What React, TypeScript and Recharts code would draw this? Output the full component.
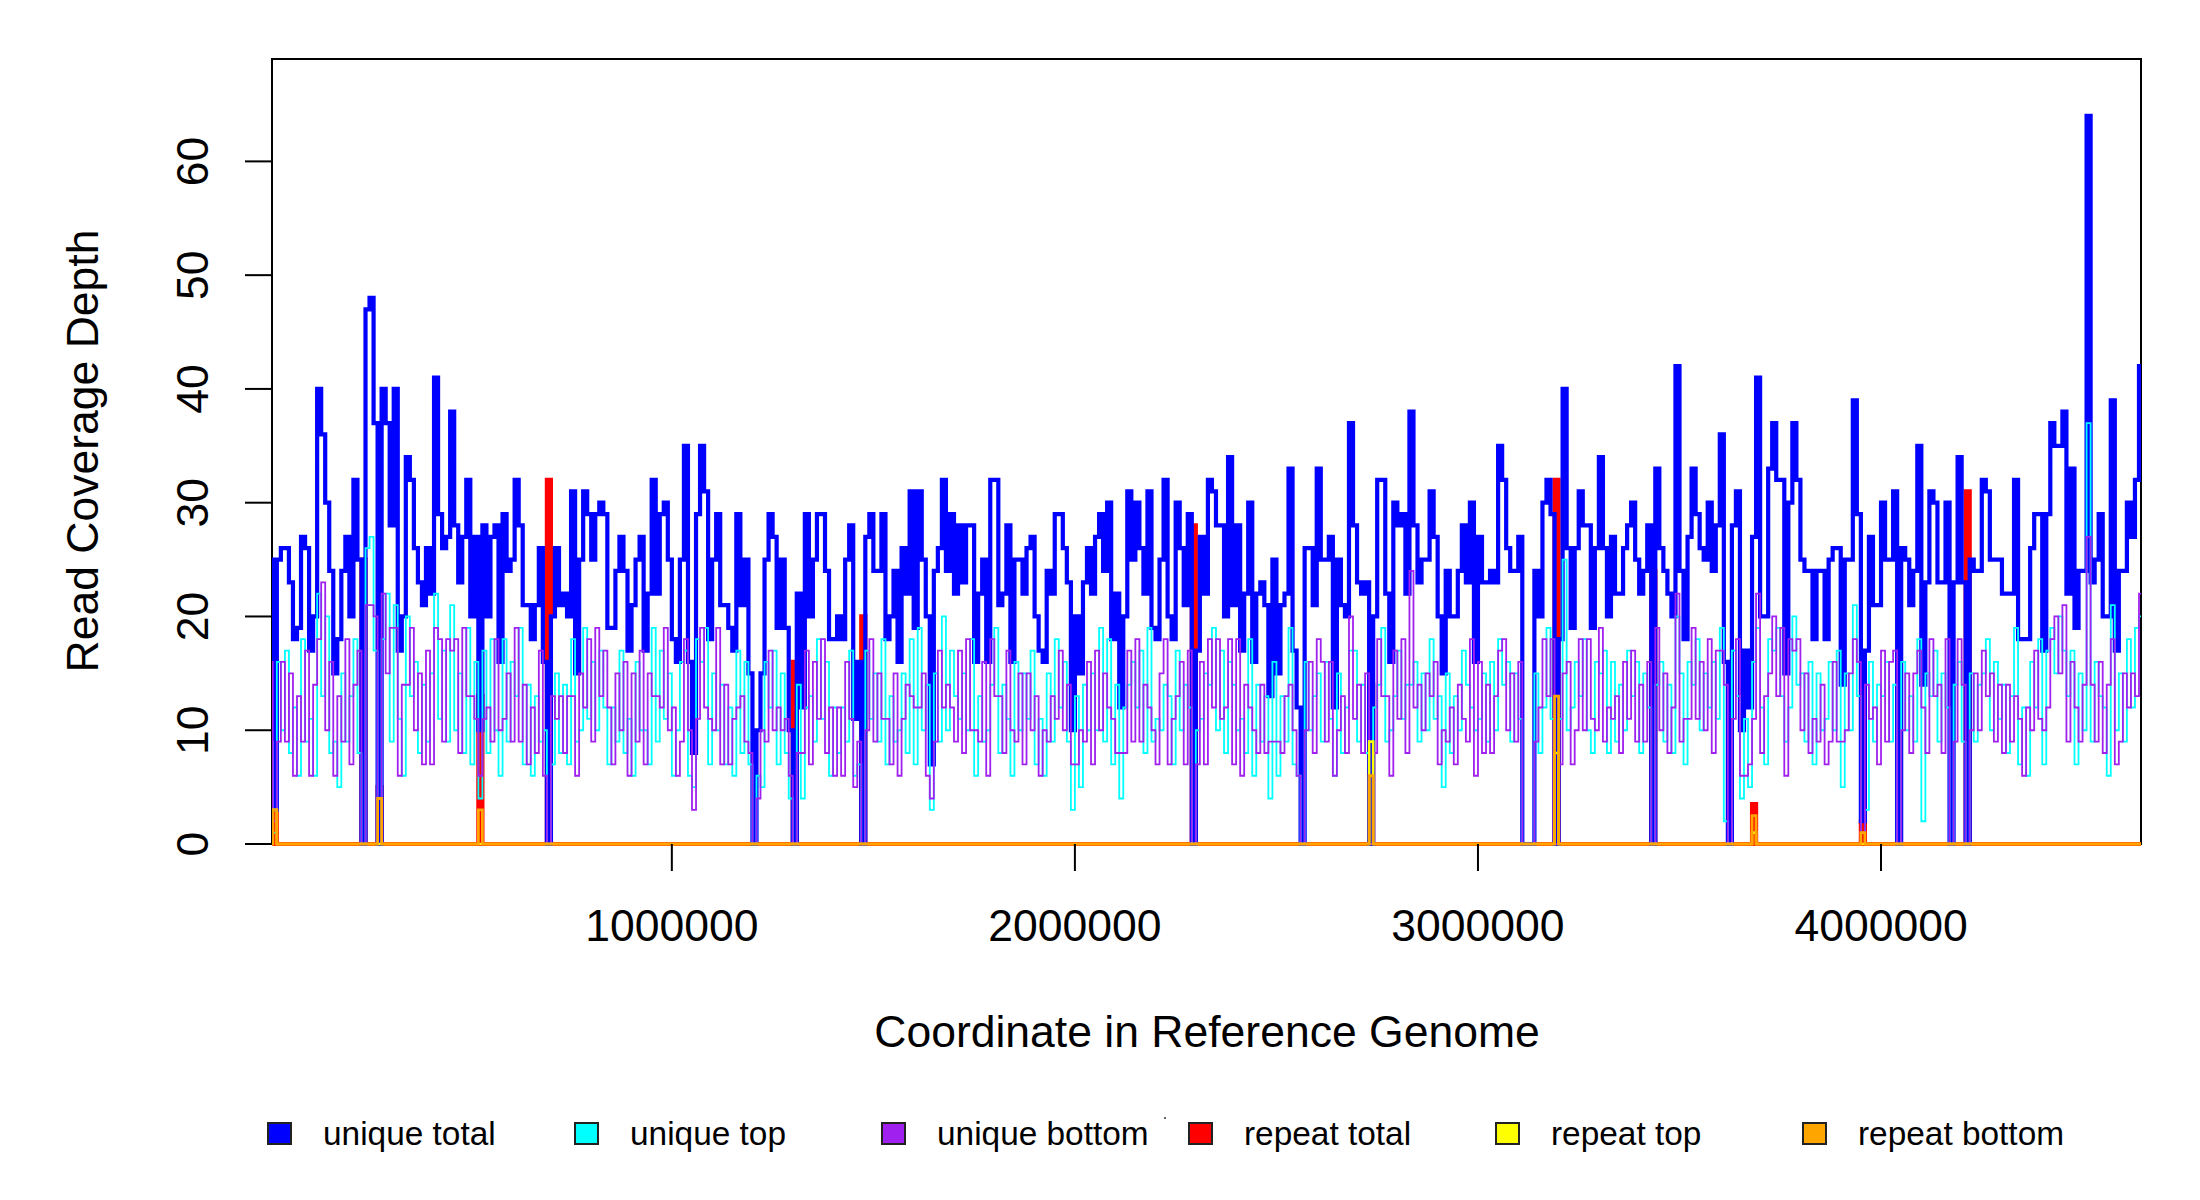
import React from 'react';
import { LineChart, Line, XAxis, YAxis, ReferenceArea } from 'recharts';

// coverage in 10 kb bins along the genome
const BIN_SIZE = 10000;

const UNIQUE_TOTAL = [
  25, 3, 25, 26, 26, 23, 18, 19, 27, 26, 17, 20, 40, 36, 30, 24, 15, 18, 24, 27, 20, 32, 25,
  0,
  47, 48, 37,
  0,
  40, 37, 28, 40, 17, 20, 34, 32, 26, 23, 21, 26, 22, 41, 29, 26, 27, 38, 28, 23, 27, 32, 20, 27, 10, 28, 20, 27, 28, 16, 29, 24, 25, 32, 28, 21, 21, 18, 21, 26, 16,
  0,
  20, 26, 21, 22, 20, 31, 15, 25, 31, 29, 25, 29, 30, 29, 19, 19, 24, 27, 24, 17, 21, 25, 27, 17, 22, 32, 22, 29, 30, 25, 18, 16, 25, 35, 16, 8, 29, 35, 31, 18, 25, 29, 21, 21, 19, 17, 29, 21, 25, 15,
  0,
  10, 15, 25, 29, 27, 19, 25, 19, 10,
  0,
  22, 12, 29, 20, 25, 29, 29, 24, 18, 18, 20, 18, 25, 28, 11, 16,
  0,
  27, 29, 24, 24, 29, 18, 20, 24, 16, 26, 22, 31, 19, 31, 25, 20, 7, 24, 26, 32, 24, 29, 22, 28, 23, 28, 28, 16, 22, 25, 16, 32, 32, 21, 22, 28, 16, 25, 25, 22,
  26, 27, 20, 17, 16, 24, 22, 29, 29, 26, 23, 10, 20, 15, 23, 26, 22, 27, 29, 24, 30, 18, 22, 12, 20, 31, 25, 30, 26, 22, 31, 19, 18, 25, 32, 20, 18, 30, 26, 21, 29,
  0,
  17, 27, 22, 32, 31, 28, 28, 20, 34, 21, 28, 17, 22, 30, 16, 22, 23, 21, 13, 25, 15, 21, 22, 33, 17, 12,
  0,
  26, 26, 21, 33, 25, 25, 27, 12, 25, 21, 20, 37, 28, 23, 22, 23, 0, 20, 32, 32, 22, 16, 30, 28, 29, 22, 38, 28, 23, 25, 25, 31, 27, 20, 15, 24, 20, 20, 24, 28,
  23, 30, 16, 27, 23, 23, 24, 23, 35, 32, 26, 24, 24, 27,
  0, 0, 0,
  24, 20, 30, 32, 29, 0, 18, 40, 26, 19, 26, 31, 28, 28, 19, 26, 34, 26, 20, 27, 22, 22, 26, 28, 30, 25, 22, 24, 28,
  0,
  33, 26, 24, 22, 20, 42, 24, 18, 27, 33, 29, 26, 25, 30, 24, 28, 36, 16,
  0,
  28, 31, 10, 17, 12, 27, 41, 20, 20, 33, 37, 32, 32, 15, 30, 37, 32, 25, 24, 24, 18, 24, 24, 18, 25, 26, 26, 14, 25, 25, 39, 29, 2, 17, 27, 21, 21, 30, 25, 25, 31,
  0,
  26, 25, 21, 24, 35, 14, 23, 31, 30, 23, 23, 30,
  0,
  23, 34, 23,
  0,
  25, 24, 24, 32, 31, 25, 25, 25, 22, 22, 22, 32, 18, 18, 18, 26, 29, 29, 17, 29, 37, 35, 35, 38, 22, 33, 19, 24, 24, 64, 23, 25, 29, 20, 20, 39, 17, 24, 24, 30,
  27, 32, 42,
];

const UNIQUE_TOP = [
  9, 1, 16, 10, 17, 8, 12, 6, 18, 9, 11, 6, 22, 13, 20, 8, 9, 5, 15, 9, 13, 18, 8,
  0,
  26, 27, 17,
  0,
  18, 22, 9, 21, 11, 6, 20, 13, 16, 8, 14, 9, 15, 22, 11, 17, 9, 21, 10, 15, 8, 19, 7, 16, 4, 17, 8, 18, 10, 6, 18, 9, 16, 13, 19, 7, 14, 6, 13, 9, 10,
  0,
  7, 15, 8, 14, 7, 18, 9, 10, 19, 11, 16, 10, 17, 12, 7, 12, 9, 17, 8, 11, 6, 16, 10, 10, 7, 19, 9, 17, 11, 15, 6, 10, 16, 17, 6, 5, 18, 16, 19, 7, 15, 10, 14, 7, 12, 6, 17, 8, 16, 7,
  0,
  6, 5, 16, 12, 17, 7, 15, 8, 4,
  0,
  14, 4, 12, 13, 9, 18, 11, 16, 6, 12, 8, 12, 9, 17, 6, 7,
  0,
  17, 11, 15, 9, 18, 7, 13, 9, 10, 15, 8, 18, 7, 19, 10, 14, 3, 15, 9, 20, 10, 17, 13, 11, 15, 10, 18, 6, 13, 9, 10, 14, 19, 8, 14, 11, 6, 16, 10, 15,
  11, 17, 7, 11, 6, 15, 9, 18, 12, 16, 9, 3, 13, 5, 14, 10, 15, 10, 19, 9, 18, 7, 14, 4, 12, 14, 16, 12, 17, 8, 19, 9, 11, 10, 14, 13, 7, 17, 10, 14, 12,
  0,
  10, 11, 15, 14, 19, 10, 17, 8, 16, 14, 10, 11, 8, 18, 6, 14, 9, 13, 4, 16, 6, 13, 9, 19, 7, 6,
  0,
  16, 10, 13, 15, 9, 16, 11, 6, 15, 8, 12, 17, 17, 9, 14, 8, 0, 12, 14, 19, 9, 10, 13, 17, 11, 14, 14, 16, 9, 15, 10, 18, 11, 13, 5, 15, 8, 13, 10, 17,
  14, 12, 10, 11, 15, 9, 16, 10, 18, 14, 16, 9, 15, 11,
  0, 0, 0,
  15, 8, 12, 19, 11, 0, 11, 25, 10, 12, 16, 13, 18, 10, 8, 16, 15, 17, 8, 16, 9, 14, 10, 17, 13, 16, 8, 15, 12,
  0,
  14, 16, 9, 14, 8, 20, 15, 7, 16, 14, 18, 10, 15, 12, 16, 11, 19, 2,
  0,
  17, 13, 4, 11, 5, 16, 19, 12, 7, 18, 17, 19, 13, 9, 12, 20, 14, 15, 9, 16, 7, 15, 10, 11, 16, 10, 17, 5, 15, 10, 21, 13, 1, 3, 16, 9, 14, 13, 16, 9, 14,
  0,
  16, 10, 13, 9, 18, 2, 15, 13, 17, 9, 15, 12,
  0,
  14, 16, 9,
  0,
  15, 9, 14, 15, 18, 10, 16, 11, 14, 8, 13, 19, 7, 12, 6, 16, 12, 18, 7, 17, 19, 15, 20, 17, 13, 17, 7, 15, 10, 37, 9, 16, 13, 12, 6, 21, 10, 15, 9, 18,
  12, 19, 20,
];

const UNIQUE_BOTTOM = [
  16, 2, 9, 16, 9, 15, 6, 13, 9, 17, 6, 14, 18, 23, 10, 16, 6, 13, 9, 18, 7, 14, 17,
  0,
  21, 21, 20,
  0,
  22, 15, 19, 19, 6, 14, 14, 19, 10, 15, 7, 17, 7, 19, 18, 9, 18, 17, 18, 8, 19, 13, 13, 11, 6, 11, 12, 9, 18, 10, 11, 15, 9, 19, 9, 14, 7, 12, 8, 17, 6,
  0,
  13, 11, 13, 8, 13, 13, 6, 15, 12, 18, 9, 19, 13, 17, 12, 7, 15, 10, 16, 6, 15, 9, 17, 7, 15, 13, 13, 12, 19, 10, 12, 6, 9, 18, 10, 3, 11, 19, 12, 11, 10, 19, 7, 14, 7, 11, 12, 13, 9, 8,
  0,
  4, 10, 9, 17, 10, 12, 10, 11, 6,
  0,
  8, 8, 17, 7, 16, 11, 18, 8, 12, 6, 12, 6, 16, 11, 5, 9,
  0,
  10, 18, 9, 15, 11, 11, 7, 15, 6, 11, 14, 13, 12, 12, 15, 6, 4, 9, 17, 12, 14, 12, 9, 17, 8, 18, 10, 10, 9, 16, 6, 18, 13, 13, 8, 17, 10, 9, 15, 7,
  15, 10, 13, 6, 10, 9, 13, 11, 17, 10, 14, 7, 7, 10, 9, 16, 7, 17, 10, 15, 12, 11, 8, 8, 8, 17, 9, 18, 9, 14, 12, 10, 7, 15, 18, 7, 11, 13, 16, 7, 17,
  0,
  7, 16, 7, 18, 12, 18, 11, 12, 18, 7, 18, 6, 14, 12, 10, 8, 14, 8, 9, 9, 9, 8, 13, 14, 10, 6,
  0,
  10, 16, 8, 18, 16, 9, 16, 6, 10, 13, 8, 20, 11, 14, 8, 15, 0, 8, 18, 13, 13, 6, 17, 11, 18, 8, 24, 12, 14, 10, 15, 13, 16, 7, 10, 9, 12, 7, 14, 11,
  9, 18, 6, 16, 8, 14, 8, 13, 17, 18, 10, 15, 9, 16,
  0, 0, 0,
  9, 12, 18, 13, 18, 0, 7, 15, 16, 7, 10, 18, 10, 18, 11, 10, 19, 9, 12, 11, 13, 8, 16, 11, 17, 9, 14, 9, 16,
  0,
  19, 10, 15, 8, 12, 22, 9, 11, 11, 19, 11, 16, 10, 18, 8, 17, 17, 14,
  0,
  11, 18, 6, 6, 7, 11, 22, 8, 13, 15, 20, 13, 19, 6, 18, 17, 18, 10, 15, 8, 11, 9, 14, 7, 9, 16, 9, 9, 10, 15, 18, 16, 1, 14, 11, 12, 7, 17, 9, 16, 17,
  0,
  10, 15, 8, 15, 17, 12, 8, 18, 13, 14, 8, 18,
  0,
  9, 18, 14,
  0,
  10, 15, 10, 17, 13, 15, 9, 14, 8, 14, 9, 13, 11, 6, 12, 10, 17, 11, 10, 12, 18, 20, 15, 21, 9, 16, 12, 9, 14, 27, 14, 9, 16, 8, 14, 18, 7, 9, 15, 12,
  15, 13, 22,
];

// repeats are zero almost everywhere: bin index -> depth
const REPEAT_TOTAL_BINS = [1, 23, 27, 52, 69, 130, 147, 229, 273, 319, 343, 368, 395, 421];
const REPEAT_TOTAL_VALUES = [3, 25, 5, 13, 32, 16, 20, 28, 14, 32, 24, 3.5, 2, 31];
const REPEAT_TOP_BINS = [1, 273, 319, 368];
const REPEAT_TOP_VALUES = [3, 9, 8, 1];
const REPEAT_BOTTOM_BINS = [1, 27, 52, 273, 319, 368, 395];
const REPEAT_BOTTOM_VALUES = [3, 4, 3, 6, 13, 2.5, 1];

const X_TICKS = [1000000, 2000000, 3000000, 4000000];
const Y_TICKS = [0, 10, 20, 30, 40, 50, 60];

const LEGEND = [
  { name: 'unique total', color: '#0000FF' },
  { name: 'unique top', color: '#00FFFF' },
  { name: 'unique bottom', color: '#A020F0' },
  { name: 'repeat total', color: '#FF0000' },
  { name: 'repeat top', color: '#FFFF00' },
  { name: 'repeat bottom', color: '#FFA500' },
];

const FONT = '"Liberation Sans", Arial, Helvetica, sans-serif';

const sparse = (bins: number[], values: number[]) => {
  const m: Record<number, number> = {};
  bins.forEach((b, i) => { m[b] = values[i]; });
  return m;
};

const repTotal = sparse(REPEAT_TOTAL_BINS, REPEAT_TOTAL_VALUES);
const repTop = sparse(REPEAT_TOP_BINS, REPEAT_TOP_VALUES);
const repBottom = sparse(REPEAT_BOTTOM_BINS, REPEAT_BOTTOM_VALUES);

const rows = UNIQUE_TOTAL.map((v, i) => ({
  pos: i * BIN_SIZE,
  uniqueTotal: v,
  uniqueTop: UNIQUE_TOP[i] ?? 0,
  uniqueBottom: UNIQUE_BOTTOM[i] ?? 0,
  repeatTotal: repTotal[i] ?? 0,
  repeatTop: repTop[i] ?? 0,
  repeatBottom: repBottom[i] ?? 0,
}));
// closing point so the last step gets drawn
const data = [...rows, { ...rows[rows.length - 1], pos: rows.length * BIN_SIZE }];

const YTick = (props: any) => {
  const { y, payload } = props;
  return (
    <text x={208} y={y} transform={`rotate(-90, 208, ${y})`} textAnchor="middle"
      fontSize={44.5} fontFamily={FONT} fill="#000">
      {payload.value}
    </text>
  );
};

const XTick = (props: any) => {
  const { x, payload } = props;
  return (
    <text x={x} y={941} textAnchor="middle" fontSize={44.5} fontFamily={FONT} fill="#000">
      {payload.value}
    </text>
  );
};

// drawing order: red sits under the unique lines, yellow/orange on top
const series = [
  { key: 'repeatTotal', color: '#FF0000', width: 4.2 },
  { key: 'uniqueTotal', color: '#0000FF', width: 4.2 },
  { key: 'uniqueTop', color: '#00FFFF', width: 1.8 },
  { key: 'uniqueBottom', color: '#A020F0', width: 1.8 },
  { key: 'repeatTop', color: '#FFFF00', width: 2.6 },
  { key: 'repeatBottom', color: '#FFA500', width: 2.8 },
];

export default function App() {
  return (
    <div style={{ position: 'absolute', left: 0, top: 0, width: 2200, height: 1200, background: '#fff' }}>
      <LineChart width={2200} height={1200} data={data} margin={{ top: 59, right: 59, left: 0, bottom: 0 }}>
        <XAxis
          dataKey="pos"
          type="number"
          domain={[8000, 4645000]}
          allowDataOverflow
          ticks={X_TICKS}
          tick={<XTick />}
          tickSize={27}
          tickLine={{ stroke: '#000', strokeWidth: 2 }}
          axisLine={false}
          height={356}
        />
        <YAxis
          type="number"
          domain={[0, 69]}
          ticks={Y_TICKS}
          tick={<YTick />}
          tickSize={27}
          tickLine={{ stroke: '#000', strokeWidth: 2 }}
          axisLine={false}
          width={272}
        />
        {series.map((s) => (
          <Line
            key={s.key}
            type="stepAfter"
            dataKey={s.key}
            stroke={s.color}
            strokeWidth={s.width}
            dot={false}
            activeDot={false}
            isAnimationActive={false}
          />
        ))}
        <ReferenceArea x1={8000} x2={4645000} y1={0} y2={69} fill="none" stroke="#000" strokeWidth={2} ifOverflow="visible" />
      </LineChart>

      <svg width={2200} height={1200} style={{ position: 'absolute', left: 0, top: 0, pointerEvents: 'none' }}>
        <text x={1207} y={1047} textAnchor="middle" fontSize={44.5} fontFamily={FONT} fill="#000">
          Coordinate in Reference Genome
        </text>
        <text x={98} y={451} transform="rotate(-90, 98, 451)" textAnchor="middle" fontSize={44.5} fontFamily={FONT} fill="#000">
          Read Coverage Depth
        </text>
        {LEGEND.map((item, i) => {
          const bx = 268 + i * 307;
          return (
            <g key={item.name}>
              <rect x={bx} y={1123} width={23} height={21} fill={item.color} stroke="#222" strokeWidth={2} />
              <text x={bx + 55} y={1145} fontSize={33.4} fontFamily={FONT} fill="#000">{item.name}</text>
            </g>
          );
        })}
        <rect x={1164} y={1117} width={2} height={2} fill="#666" />
      </svg>
    </div>
  );
}
